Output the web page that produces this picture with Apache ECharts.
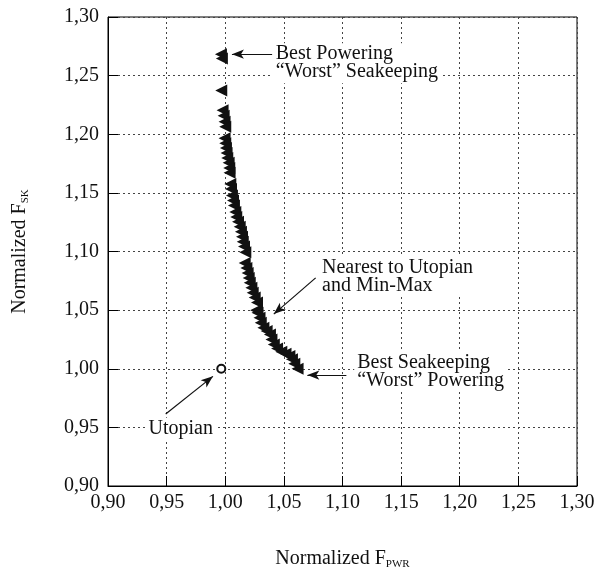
<!DOCTYPE html>
<html><head><meta charset="utf-8">
<script src="https://cdn.jsdelivr.net/npm/echarts@6/dist/echarts.min.js"></script>
<style>html,body{margin:0;padding:0;background:#fff}#c{width:597px;height:574px}</style>
</head><body><div id="c"></div>
<script>
// ---- data ----
const xTickLabels = ['0,90','0,95','1,00','1,05','1,10','1,15','1,20','1,25','1,30'];
const yTickLabels = ['0,90','0,95','1,00','1,05','1,10','1,15','1,20','1,25','1,30'];

const paretoX = [0.9963,0.9971,0.9966,0.9977,0.9986,0.9994,1.0000,0.9994,1.0000,1.0006,1.0011,1.0017,
  1.0029,1.0034,1.0037,1.0043,1.0049,1.0057,1.0066,1.0074,1.0086,1.0094,1.0109,1.0123,1.0134,1.0143,
  1.0149,1.0160,1.0171,1.0166,1.0180,1.0191,1.0200,1.0209,1.0223,1.0234,1.0251,1.0271,1.0263,1.0275,
  1.0292,1.0303,1.0325,1.0353,1.0381,1.0394,1.0414,1.0442,1.0478,1.0514,1.0547,1.0569,1.0589,1.0617];
const paretoY = [1.2683,1.2646,1.2374,1.2205,1.2157,1.2107,1.2065,1.1966,1.1924,1.1882,1.1840,1.1798,
  1.1756,1.1713,1.1671,1.1576,1.1534,1.1478,1.1435,1.1393,1.1337,1.1295,1.1253,1.1211,1.1169,1.1126,
  1.1084,1.1042,1.0994,1.0902,1.0860,1.0817,1.0775,1.0733,1.0691,1.0649,1.0607,1.0565,1.0500,1.0477,
  1.0435,1.0392,1.0349,1.0321,1.0293,1.0250,1.0207,1.0173,1.0145,1.0128,1.0108,1.0080,1.0043,1.0000];

const utopianX = [0.9966];
const utopianY = [1.0000];

// annotations (data coordinates)
const annoLabels = ['Best Powering\n\u201CWorst\u201D Seakeeping',
                    'Nearest to Utopian\nand Min-Max',
                    'Best Seakeeping\n\u201CWorst\u201D Powering',
                    'Utopian'];
const annoTextX  = [1.0405, 1.0800, 1.1100, 0.9620];
const annoTextY  = [1.2606, 1.0783, 0.9973, 0.9489];
const annoAlign  = ['left','left','left','center'];
const arrowTailX = [1.0400, 1.0771, 1.1033, 0.9492];
const arrowTailY = [1.2683, 1.0775, 0.9946, 0.9614];
const arrowHeadX = [1.0057, 1.0414, 1.0700, 0.9895];
const arrowHeadY = [1.2683, 1.0466, 0.9946, 0.9935];

// ---- chart ----
const FONT = '"Liberation Serif", "Times New Roman", serif';
const chart = echarts.init(document.getElementById('c'), null, {renderer: 'canvas'});
function fmt(labels){ return v => labels[Math.round((v - 0.9) / 0.05)]; }

const axisCommon = {
  type: 'value', min: 0.9, max: 1.3, interval: 0.05,
  axisLine: {show: true, lineStyle: {color: '#000', width: 1}},
  axisTick: {show: true, inside: true, length: 10, lineStyle: {color: '#000', width: 1}},
  splitLine: {show: true, lineStyle: {color: '#444', width: 1, type: [2, 3]}},
  nameLocation: 'middle'
};

const option = {
  animation: false,
  backgroundColor: '#fff',
  grid: {left: 108, top: 17, right: 20, bottom: 88, outerBoundsMode: 'none', containLabel: false,
         show: true, borderColor: '#000', borderWidth: 1, backgroundColor: 'transparent'},
  xAxis: Object.assign({}, axisCommon, {
    axisLabel: {formatter: fmt(xTickLabels), color: '#111', fontFamily: FONT, fontSize: 20, margin: 7},
    name: '{a|Normalized F}{b|PWR}', nameGap: 61,
    nameTextStyle: {color: '#111', fontFamily: FONT, rich: {
      a: {fontSize: 20, fontFamily: FONT, color: '#111'},
      b: {fontSize: 11, fontFamily: FONT, color: '#111', padding: [12, 0, 0, 0]}}}
  }),
  yAxis: Object.assign({}, axisCommon, {
    axisLabel: {formatter: fmt(yTickLabels), color: '#111', fontFamily: FONT, fontSize: 20, margin: 9},
    name: '{a|Normalized F}{b|SK}', nameGap: 77, nameRotate: 90,
    nameTextStyle: {color: '#111', fontFamily: FONT, rich: {
      a: {fontSize: 20, fontFamily: FONT, color: '#111'},
      b: {fontSize: 11, fontFamily: FONT, color: '#111', padding: [12, 0, 0, 0]}}}
  }),
  series: [
    {
      type: 'scatter', name: 'Pareto',
      data: paretoX.map((x, i) => [x, paretoY[i]]),
      symbol: 'triangle', symbolRotate: 90, symbolSize: 12,
      itemStyle: {color: '#111', opacity: 1}, silent: true, z: 5
    },
    {
      type: 'scatter', name: 'Utopian',
      data: utopianX.map((x, i) => [x, utopianY[i]]),
      symbol: 'circle', symbolSize: 8,
      itemStyle: {color: '#fff', borderColor: '#111', borderWidth: 2, opacity: 1}, silent: true, z: 6,
      markLine: {
        silent: true, animation: false,
        symbol: ['none', 'arrow'], symbolSize: 11,
        label: {show: false},
        lineStyle: {color: '#111', width: 1.2, type: 'solid'},
        emphasis: {disabled: true},
        data: arrowTailX.map((x, i) => [
          {coord: [x, arrowTailY[i]], symbol: 'none'},
          {coord: [arrowHeadX[i], arrowHeadY[i]], symbol: 'arrow', symbolSize: [7, 12]}
        ])
      }
    }
  ]
};
chart.setOption(option);

const graphics = annoLabels.map((t, i) => {
  const p = chart.convertToPixel({gridIndex: 0}, [annoTextX[i], annoTextY[i]]);
  return {
    type: 'text', x: p[0], y: p[1], z: 100,
    style: {text: t, fill: '#111', font: '20px ' + FONT, align: annoAlign[i], verticalAlign: 'middle',
            lineHeight: 18, backgroundColor: '#fff', padding: [2, 3]}
  };
});
chart.setOption({graphic: graphics});
</script></body></html>
